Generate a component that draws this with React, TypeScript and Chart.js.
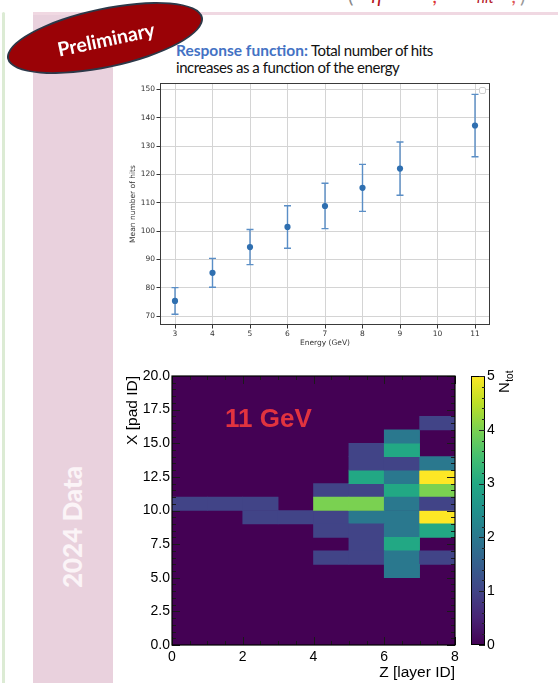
import React, { useEffect, useRef } from 'react';
import { Chart, registerables } from 'chart.js';

Chart.register(...registerables);

// Response function: mean number of hits per beam energy
const energyGeV = [3, 4, 5, 6, 7, 8, 9, 11];
const meanHits = [75.4, 85.3, 94.4, 101.5, 108.9, 115.3, 122.1, 137.3];
const hitsError = [4.7, 5.1, 6.2, 7.5, 8.0, 8.3, 9.4, 11.0];

// 11 GeV event: hit count N_tot in each (layer Z, pad X) cell
const cellLayerZ = [0, 1, 2, 2, 3, 4, 5, 6, 7, 4, 5, 6, 7, 4, 5, 6, 7, 4, 5, 6, 7, 5, 6, 4, 5, 6, 7, 6, 5, 6, 7, 5, 6, 7, 5, 6, 6, 7];
const cellPadX = [10, 10, 10, 9, 9, 9, 9, 9, 9, 11, 11, 11, 11, 10, 10, 10, 10, 8, 8, 8, 8, 7, 7, 6, 6, 6, 6, 5, 12, 12, 12, 13, 13, 13, 14, 14, 15, 16];
const cellNTot = [1, 1, 1, 1, 1, 1, 2, 2, 5, 1, 1, 3, 4, 4, 4, 2, 1, 1, 1, 2, 3, 1, 3, 1, 1, 2, 1, 2, 3, 2, 5, 1, 1, 2, 1, 3, 2, 1];
const nTotMax = 5;

const VIRIDIS = ['#440154', '#482475', '#414487', '#355f8d', '#2a788e', '#21918c', '#22a884', '#44bf70', '#7ad151', '#bddf26', '#fde725'];

function hexToRgb(h: string) {
  return [parseInt(h.slice(1, 3), 16), parseInt(h.slice(3, 5), 16), parseInt(h.slice(5, 7), 16)];
}

function viridis(t: number) {
  const c = Math.max(0, Math.min(1, t)) * (VIRIDIS.length - 1);
  const i = Math.min(VIRIDIS.length - 2, Math.floor(c));
  const f = c - i;
  const a = hexToRgb(VIRIDIS[i]);
  const b = hexToRgb(VIRIDIS[i + 1]);
  const m = a.map((v, k) => Math.round(v + (b[k] - v) * f));
  return `rgb(${m[0]},${m[1]},${m[2]})`;
}

const MPL_FONT = 'DejaVu Sans';
const ROOT_FONT = 'Liberation Sans';

// Error bars with caps, drawn under the markers, plus the axes frame and the empty legend box
const errorBarPlugin = {
  id: 'errorBars',
  beforeDatasetsDraw(chart: any) {
    const { ctx, scales } = chart;
    const xs = scales.x;
    const ys = scales.y;
    ctx.save();
    ctx.strokeStyle = '#5a8ec6';
    ctx.lineWidth = 1.4;
    energyGeV.forEach((e, i) => {
      const px = xs.getPixelForValue(e);
      const top = ys.getPixelForValue(meanHits[i] + hitsError[i]);
      const bot = ys.getPixelForValue(meanHits[i] - hitsError[i]);
      ctx.beginPath();
      ctx.moveTo(px, top);
      ctx.lineTo(px, bot);
      ctx.moveTo(px - 3.5, top);
      ctx.lineTo(px + 3.5, top);
      ctx.moveTo(px - 3.5, bot);
      ctx.lineTo(px + 3.5, bot);
      ctx.stroke();
    });
    ctx.restore();
  },
  afterDraw(chart: any) {
    const { ctx, chartArea: a } = chart;
    ctx.save();
    ctx.strokeStyle = '#3a3a3a';
    ctx.lineWidth = 1;
    ctx.strokeRect(a.left + 0.5, a.top + 0.5, a.right - a.left - 1, a.bottom - a.top - 1);
    ctx.strokeStyle = '#cfcfcf';
    ctx.fillStyle = '#ffffff';
    ctx.beginPath();
    ctx.roundRect(a.right - 10.5, a.top + 4.5, 6, 6, 1.5);
    ctx.fill();
    ctx.stroke();
    ctx.restore();
  },
};

// Zero level of the palette under the cells, frame with inward ticks, colour bar and labels
const heatmapPlugin = {
  id: 'heatmapDecor',
  beforeDatasetsDraw(chart: any) {
    const { ctx, chartArea: a } = chart;
    ctx.save();
    ctx.fillStyle = viridis(0);
    ctx.fillRect(a.left, a.top, a.right - a.left, a.bottom - a.top);
    ctx.restore();
  },
  afterDatasetsDraw(chart: any) {
    const { ctx, chartArea: a, scales } = chart;
    const xs = scales.x;
    const ys = scales.y;
    const zs = scales.z;
    ctx.save();

    // inward tick marks on all four sides
    ctx.strokeStyle = '#1a1a1a';
    ctx.lineWidth = 1;
    ctx.beginPath();
    for (let v = 0; v <= 8.0001; v += 0.5) {
      const px = Math.round(xs.getPixelForValue(v)) + 0.5;
      const len = Math.abs(v / 2 - Math.round(v / 2)) < 1e-6 ? 8 : 4;
      ctx.moveTo(px, a.bottom);
      ctx.lineTo(px, a.bottom - len);
      ctx.moveTo(px, a.top);
      ctx.lineTo(px, a.top + len);
    }
    for (let v = 0; v <= 20.0001; v += 0.5) {
      const py = Math.round(ys.getPixelForValue(v)) + 0.5;
      const len = Math.abs(v / 2.5 - Math.round(v / 2.5)) < 1e-6 ? 8 : 4;
      ctx.moveTo(a.left, py);
      ctx.lineTo(a.left + len, py);
      ctx.moveTo(a.right, py);
      ctx.lineTo(a.right - len, py);
    }
    ctx.stroke();

    ctx.strokeStyle = '#000';
    ctx.lineWidth = 1.2;
    ctx.strokeRect(a.left, a.top, a.right - a.left, a.bottom - a.top);

    // colour bar
    const cbLeft = a.right + 16;
    const cbW = 14;
    const yTop = zs.getPixelForValue(nTotMax);
    const yBot = zs.getPixelForValue(0);
    const grad = ctx.createLinearGradient(0, yBot, 0, yTop);
    VIRIDIS.forEach((c, i) => grad.addColorStop(i / (VIRIDIS.length - 1), c));
    ctx.fillStyle = grad;
    ctx.fillRect(cbLeft, yTop, cbW, yBot - yTop);
    ctx.strokeStyle = '#000';
    ctx.lineWidth = 1;
    ctx.strokeRect(cbLeft + 0.5, yTop + 0.5, cbW - 1, yBot - yTop - 1);
    ctx.strokeStyle = '#222';
    ctx.beginPath();
    for (let v = 0; v <= nTotMax + 0.0001; v += 0.2) {
      const py = Math.round(zs.getPixelForValue(v)) + 0.5;
      const len = Math.abs(v - Math.round(v)) < 1e-6 ? 6 : 3;
      ctx.moveTo(cbLeft + cbW, py);
      ctx.lineTo(cbLeft + cbW - len, py);
    }
    ctx.stroke();

    // colour bar title N_tot, reading upward
    ctx.save();
    ctx.translate(cbLeft + cbW + 24, a.top + 17);
    ctx.rotate(-Math.PI / 2);
    ctx.fillStyle = '#000';
    ctx.textBaseline = 'alphabetic';
    ctx.font = `15px '${ROOT_FONT}'`;
    ctx.fillText('N', 0, 0);
    const nW = ctx.measureText('N').width;
    ctx.font = `10px '${ROOT_FONT}'`;
    ctx.fillText('tot', nW + 0.5, 3.5);
    ctx.restore();

    // beam energy label
    ctx.fillStyle = '#e1333f';
    ctx.font = `bold 26px '${ROOT_FONT}'`;
    ctx.textBaseline = 'alphabetic';
    ctx.fillText('11 GeV', a.left + 53, a.top + 51);

    ctx.restore();
  },
};

function ResponseChart() {
  const ref = useRef<HTMLCanvasElement>(null);
  useEffect(() => {
    const chart = new Chart(ref.current!, {
      type: 'scatter',
      data: {
        datasets: [
          {
            data: energyGeV.map((e, i) => ({ x: e, y: meanHits[i] })),
            backgroundColor: '#2f6fb0',
            borderColor: '#2f6fb0',
            pointRadius: 3.1,
            pointHoverRadius: 3.1,
            borderWidth: 0,
          },
        ],
      },
      options: {
        responsive: false,
        animation: false,
        devicePixelRatio: 1,
        layout: { padding: { top: 6, right: 10, left: 0, bottom: 0 } },
        plugins: { legend: { display: false }, tooltip: { enabled: false } },
        scales: {
          x: {
            type: 'linear',
            min: 2.6,
            max: 11.4,
            afterFit: (s: any) => { s.height = 27; },
            ticks: {
              stepSize: 1,
              includeBounds: false,
              padding: 1.5,
              color: '#333',
              font: { family: MPL_FONT, size: 7.5 },
              maxRotation: 0,
            },
            grid: { color: '#d4d4d4', tickColor: '#333', tickLength: 3.5, lineWidth: 1 },
            border: { display: false },
            title: {
              display: true,
              text: 'Energy (GeV)',
              color: '#333',
              font: { family: MPL_FONT, size: 7.5 },
              padding: { top: 0, bottom: 4 },
            },
          },
          y: {
            type: 'linear',
            min: 66.9,
            max: 152.3,
            afterFit: (s: any) => { s.width = 50; },
            ticks: {
              stepSize: 10,
              includeBounds: false,
              padding: 1.5,
              color: '#333',
              font: { family: MPL_FONT, size: 7.5 },
            },
            grid: { color: '#d4d4d4', tickColor: '#333', tickLength: 3.5, lineWidth: 1 },
            border: { display: false },
            title: {
              display: true,
              text: 'Mean number of hits',
              color: '#333',
              font: { family: MPL_FONT, size: 7.5 },
              padding: { top: 19, bottom: 0 },
            },
          },
        },
      },
      plugins: [errorBarPlugin],
    } as any);
    return () => chart.destroy();
  }, []);
  return <canvas ref={ref} width={390} height={275} style={{ position: 'absolute', left: 110, top: 77 }} />;
}

function EventDisplayChart() {
  const ref = useRef<HTMLCanvasElement>(null);
  useEffect(() => {
    const chart = new Chart(ref.current!, {
      type: 'bar',
      data: {
        datasets: [
          {
            data: cellLayerZ.map((z, i) => ({ x: z + 0.5, y: [cellPadX[i], cellPadX[i] + 1] })),
            backgroundColor: cellNTot.map((n) => viridis(n / nTotMax)),
            borderWidth: 0,
            barPercentage: 1,
            categoryPercentage: 1,
          },
        ],
      },
      options: {
        responsive: false,
        animation: false,
        devicePixelRatio: 1,
        layout: { padding: { top: 14, right: 0, left: 0, bottom: 0 } },
        plugins: { legend: { display: false }, tooltip: { enabled: false } },
        scales: {
          x: {
            type: 'linear',
            min: 0,
            max: 8,
            offset: false,
            afterFit: (s: any) => { s.height = 38; },
            ticks: {
              stepSize: 2,
              padding: 4,
              color: '#000',
              font: { family: ROOT_FONT, size: 14 },
              maxRotation: 0,
              callback: (v: any) => String(v),
            },
            grid: { display: false, offset: false, drawTicks: false },
            border: { display: false },
            title: {
              display: true,
              text: 'Z [layer ID]',
              align: 'end',
              color: '#000',
              font: { family: ROOT_FONT, size: 15.5 },
              padding: { top: 0, bottom: 1 },
            },
          },
          y: {
            type: 'linear',
            min: 0,
            max: 20,
            afterFit: (s: any) => { s.width = 52; },
            ticks: {
              stepSize: 2.5,
              padding: 2,
              color: '#000',
              font: { family: ROOT_FONT, size: 14 },
              callback: (v: any) => Number(v).toFixed(1),
            },
            grid: { display: false, drawTicks: false },
            border: { display: false },
            title: {
              display: true,
              text: 'X [pad ID]',
              align: 'end',
              color: '#000',
              font: { family: ROOT_FONT, size: 15.5 },
              padding: { top: 3, bottom: 0 },
            },
          },
          z: {
            type: 'linear',
            position: 'right',
            min: 0,
            max: nTotMax,
            afterFit: (s: any) => { s.width = 75; },
            ticks: {
              stepSize: 1,
              padding: 2,
              color: '#000',
              font: { family: ROOT_FONT, size: 14 },
            },
            grid: {
              display: true,
              drawOnChartArea: false,
              drawTicks: true,
              tickLength: 30,
              tickColor: 'rgba(0,0,0,0)',
              color: 'rgba(0,0,0,0)',
            },
            border: { display: false },
          },
        },
      },
      plugins: [heatmapPlugin],
    } as any);
    return () => chart.destroy();
  }, []);
  return <canvas ref={ref} width={410} height={321} style={{ position: 'absolute', left: 120, top: 362 }} />;
}

export default function App() {
  const abs = (s: React.CSSProperties): React.CSSProperties => ({ position: 'absolute', ...s });
  return (
    <div
      style={{
        position: 'absolute',
        left: 0,
        top: 0,
        width: 558,
        height: 683,
        overflow: 'hidden',
        background: '#ffffff',
        fontFamily: 'Lato, sans-serif',
      }}
    >
      {/* slide frame */}
      <div style={abs({ left: 2, top: 12, width: 3, bottom: 0, background: '#dcebd4', borderRadius: '2px 2px 0 0' })} />
      <div style={abs({ left: 33, top: 12, width: 80, bottom: 0, background: '#e9d1dd' })} />
      <div style={abs({ left: 33, top: 12, right: 0, height: 3, background: '#f0d8e2' })} />

      {/* formula line above, cut by the top edge */}
      <span style={abs({ left: 348, top: -17, font: '20px Lato', color: '#888' })}>(</span>
      <span style={abs({ left: 371, top: -17, font: 'italic 20px Lato', color: '#b3111b' })}>η</span>
      <span style={abs({ left: 433, top: -17, font: 'italic 20px Lato', color: '#d33' })}>,</span>
      <span style={abs({ left: 477, top: -12, font: 'italic 15px Lato', color: '#b3111b' })}>hit</span>
      <span style={abs({ left: 512, top: -17, font: 'italic 20px Lato', color: '#d55' })}>,</span>
      <span style={abs({ left: 520, top: -17, font: '20px Lato', color: '#999' })}>)</span>

      {/* vertical section label */}
      <div
        style={abs({
          left: 72,
          top: 527,
          transform: 'translate(-50%, -50%) rotate(-90deg)',
          color: '#fbf4f7',
          font: '900 26px Lato',
          whiteSpace: 'nowrap',
        })}
      >
        2024 Data
      </div>

      {/* heading */}
      <div style={abs({ left: 176, top: 42, font: '15px Lato', lineHeight: '16.5px', color: '#111', whiteSpace: 'nowrap', letterSpacing: '-0.45px' })}>
        <span style={{ color: '#4472c4', fontWeight: 700, fontSize: '15.5px', letterSpacing: 0 }}>Response function:</span> Total number of hits
        <br />
        increases as a function of the energy
      </div>

      <ResponseChart />
      <EventDisplayChart />

      {/* stamp */}
      <div
        style={abs({
          left: 105 - 100,
          top: 38 - 30,
          width: 200,
          height: 60,
          borderRadius: '50%',
          background: '#9a0206',
          border: '2px solid #2c3848',
          boxSizing: 'border-box',
          transform: 'rotate(-12deg)',
        })}
      />
      <div
        style={abs({
          left: 106,
          top: 39,
          transform: 'translate(-50%, -50%) rotate(-12deg)',
          color: '#ffffff',
          font: '700 19.5px Lato',
          whiteSpace: 'nowrap',
        })}
      >
        Preliminary
      </div>
    </div>
  );
}
